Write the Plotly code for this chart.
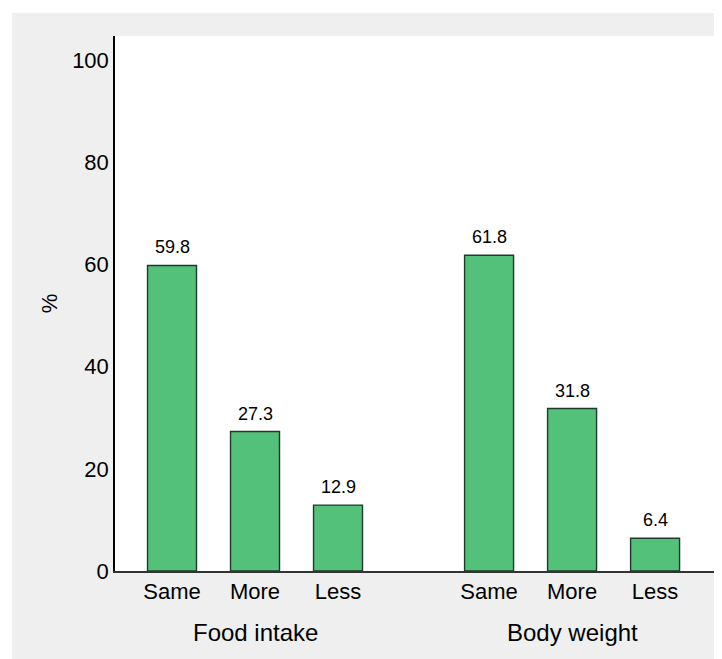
import plotly.graph_objects as go

categories = ["Same", "More", "Less", "Same", "More", "Less"]
groups = ["Food intake", "Body weight"]
values = [59.8, 27.3, 12.9, 61.8, 31.8, 6.4]
positions = [0, 1, 2, 3.82, 4.82, 5.82]
group_centers = [1, 4.82]
y_ticks = [0, 20, 40, 60, 80, 100]

FONT = "Liberation Sans, Arial, sans-serif"

W, H = 722, 659
ML, MR, MT, MB = 107, 16, 28, 96
PW, PH = W - ML - MR, H - MT - MB

fig = go.Figure()
fig.add_trace(go.Bar(
    x=positions, y=values, width=0.59,
    marker=dict(color="#54c17b", line=dict(color="#1f3a2a", width=1.4)),
    hoverinfo="skip",
))

for p, v in zip(positions, values):
    fig.add_annotation(x=p, y=v, xref="x", yref="y", text=f"{v:.1f}",
                       showarrow=False, yanchor="bottom", yshift=6,
                       font=dict(family=FONT, size=18, color="#000"))

for g, c in zip(groups, group_centers):
    fig.add_annotation(x=c, y=-61 / PH, xref="x", yref="paper", text=g,
                       showarrow=False, font=dict(family=FONT, size=24, color="#000"),
                       yanchor="middle")

# grey frame background and white panel
fig.add_shape(type="rect", xref="paper", yref="paper",
              x0=(4 - ML) / PW, x1=1 + MR / PW + 0.02, y0=-MB / PH - 0.02, y1=1 + (MT - 5) / PH,
              fillcolor="#efefef", line=dict(width=0), layer="below")
fig.add_shape(type="rect", xref="paper", yref="paper",
              x0=0, x1=1, y0=0, y1=1,
              fillcolor="white", line=dict(width=0), layer="below")

fig.update_layout(
    width=W, height=H,
    margin=dict(l=ML, r=MR, t=MT, b=MB),
    paper_bgcolor="white", plot_bgcolor="white",
    showlegend=False,
    font=dict(family=FONT, color="#000"),
    xaxis=dict(range=[-0.687, 6.53], tickvals=positions, ticktext=categories,
               tickfont=dict(size=22), showgrid=False, zeroline=False,
               showline=True, linecolor="#333", linewidth=1.5, ticks=""),
    yaxis=dict(range=[0, 104.7], tickvals=y_ticks, tickfont=dict(size=22),
               showgrid=False, zeroline=False, showline=True, linecolor="#000",
               linewidth=1.5, ticks="",
               title=dict(text="%", font=dict(size=22), standoff=8)),
)

fig.write_html("out.html")
